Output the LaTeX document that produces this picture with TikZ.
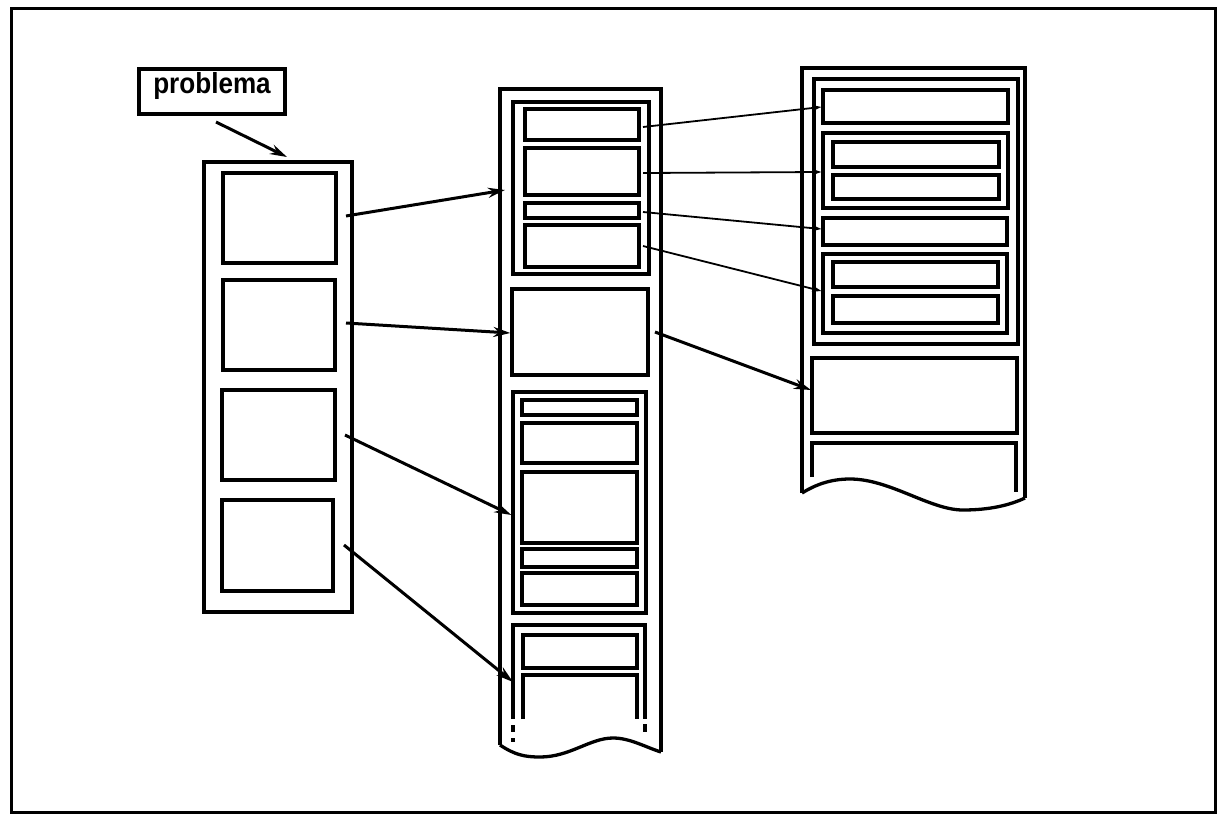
\documentclass[tikz,border=0pt]{standalone}
\usepackage{fontspec}
\setmainfont{Liberation Sans}
\usetikzlibrary{fit,arrows.meta}
\begin{document}
\begin{tikzpicture}[x=1pt,y=-1pt,
  bx/.style={draw,line width=3.3pt,inner sep=0pt,fit={#1}},
  fr/.style={line width=3.3pt},
  thk/.style={line width=3pt,-{Stealth[length=17pt,width=10pt]}},
  thn/.style={line width=1.8pt,-{Stealth[length=9pt,width=6pt]}}]
\useasboundingbox (0,0) rectangle (1220,822);
\draw[line width=3pt] (11,8) rectangle (1215,812);
% problema
\node[bx={(139,69) (285,114)}] (prob) {};
\node[anchor=base,xscale=0.9,font=\fontsize{29}{33}\selectfont\bfseries] (probtxt) at (212,93) {problema};
% left column
\node[bx={(204,162) (352,612)}] (L) {};
\node[bx={(223,173) (336,263)}] (L1) {};
\node[bx={(223,280) (335,370)}] (L2) {};
\node[bx={(222,390) (335,480)}] (L3) {};
\node[bx={(222,500) (333,591)}] (L4) {};
% middle column
\draw[fr] (500,745) -- (500,89) -- (661,89) -- (661,752);
\draw[fr] (500,745) .. controls (515,755) and (525,757) .. (540,757)
   .. controls (570,757) and (590,738) .. (613,738)
   .. controls (630,738) and (645,747) .. (661,752);
\node[bx={(513,102) (649,274)}] (MG1) {};
\node[bx={(525,109) (639,140)}] (Ma) {};
\node[bx={(525,148) (639,195)}] (Mb) {};
\node[bx={(525,203) (639,218)}] (Mc) {};
\node[bx={(525,225) (639,267)}] (Md) {};
\node[bx={(512,289) (648,375)}] (M2) {};
\node[bx={(513,392) (646,613)}] (MG3) {};
\node[bx={(522,400) (637,415)}] (M31) {};
\node[bx={(522,423) (637,463)}] (M32) {};
\node[bx={(522,472) (637,543)}] (M33) {};
\node[bx={(522,549) (637,567)}] (M34) {};
\node[bx={(522,573) (637,605)}] (M35) {};
\draw[fr] (513,719) -- (513,625) -- (645,625) -- (645,719);
\node[bx={(523,635) (637,668)}] (M41) {};
\draw[fr] (523,719) -- (523,675) -- (637,675) -- (637,719);
\draw[fr] (513,725) -- (513,732);
\draw[fr] (513,738) -- (513,742);
\draw[fr] (645,724) -- (645,732);
% right column
\draw[fr] (802,493) -- (802,68) -- (1025,68) -- (1025,498);
\draw[fr] (802,493) .. controls (815,485) and (830,479) .. (850,479)
   .. controls (890,479) and (930,510) .. (963,510)
   .. controls (990,510) and (1010,505) .. (1025,498);
\node[bx={(814,79) (1018,344)}] (RG) {};
\node[bx={(823,90) (1008,123)}] (RA) {};
\node[bx={(823,133) (1008,208)}] (RB) {};
\node[bx={(833,142) (999,167)}] (RB1) {};
\node[bx={(833,175) (999,199)}] (RB2) {};
\node[bx={(823,218) (1007,245)}] (RC) {};
\node[bx={(823,254) (1007,333)}] (RD) {};
\node[bx={(833,262) (998,287)}] (RD1) {};
\node[bx={(833,296) (998,323)}] (RD2) {};
\node[bx={(812,358) (1017,433)}] (RE) {};
\draw[fr] (812,477) -- (812,443) -- (1016,443) -- (1016,492);
% connectors
\coordinate (s0) at (216,122);
\coordinate (e0) at (287,157);
\draw[thk] (s0) -- (e0);
\coordinate (s1) at (346,216);
\coordinate (e1) at (505,190);
\draw[thk] (s1) -- (e1);
\coordinate (s2) at (346,323);
\coordinate (e2) at (M2.west |- 0,333);
\draw[thk] (s2) -- (e2);
\coordinate (s3) at (345,435);
\coordinate (e3) at (MG3.west |- 0,515);
\draw[thk] (s3) -- (e3);
\coordinate (s4) at (344,545);
\coordinate (e4) at (513,682);
\draw[thk] (s4) -- (e4);
\coordinate (s5) at (655,332);
\coordinate (e5) at (811,390);
\draw[thk] (s5) -- (e5);
\coordinate (t1) at (643,127);
\draw[thn] (t1) -- (RA.west |- 0,107);
\coordinate (t2) at (643,173);
\draw[thn] (t2) -- (RB.west |- 0,172);
\coordinate (t3) at (643,212);
\draw[thn] (t3) -- (RC.west |- 0,229);
\coordinate (t4) at (643,246);
\draw[thn] (t4) -- (RD.west |- 0,291);
\end{tikzpicture}
\end{document}
